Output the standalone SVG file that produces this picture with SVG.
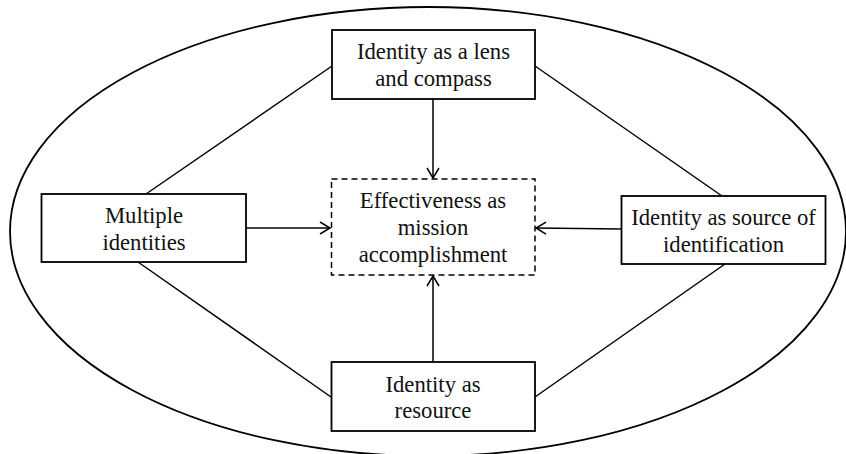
<svg xmlns="http://www.w3.org/2000/svg" width="846" height="454" viewBox="0 0 846 454">
<defs>
<marker id="arr" markerUnits="userSpaceOnUse" markerWidth="14" markerHeight="16" refX="11" refY="7" orient="auto">
<path d="M1,1 L11,7 L1,13" fill="none" stroke="#000" stroke-width="1.5"/>
</marker>
</defs>
<style>
.box{fill:#fff;stroke:#000;stroke-width:1.8}
.dash{fill:#fff;stroke:#000;stroke-width:1.5;stroke-dasharray:6 4}
.ln{stroke:#000;stroke-width:1.5;fill:none}
.ar{stroke:#000;stroke-width:1.5;fill:none;marker-end:url(#arr)}
.t{font-family:'Liberation Serif','Times New Roman',serif;font-size:22.7px;fill:#111;text-anchor:middle}
</style>
<rect width="846" height="454" fill="#fff"/>
<ellipse id="boundary" cx="428" cy="231.5" rx="418" ry="224.5" fill="none" stroke="#000" stroke-width="1.8"/>
<g id="connectors">
<line class="ln" x1="332" y1="66" x2="146" y2="194"/>
<line class="ln" x1="535" y1="66" x2="722" y2="196"/>
<line class="ln" x1="138" y1="262" x2="331" y2="397"/>
<line class="ln" x1="725" y1="264" x2="535" y2="397"/>
<line class="ar" x1="433" y1="99" x2="433" y2="178"/>
<line class="ar" x1="246" y1="228" x2="330" y2="228"/>
<line class="ar" x1="621" y1="229" x2="536" y2="228"/>
<line class="ar" x1="433" y1="362" x2="433" y2="276"/>
</g>
<g id="lens">
<rect class="box" x="332" y="30" width="203" height="69"/>
<text class="t" x="433.5" y="59">Identity as a lens</text>
<text class="t" x="433.5" y="86">and compass</text>
</g>
<g id="effectiveness">
<rect class="dash" x="331.5" y="179" width="203.5" height="96"/>
<text class="t" x="433" y="208">Effectiveness as</text>
<text class="t" x="433" y="235">mission</text>
<text class="t" x="433" y="262">accomplishment</text>
</g>
<g id="multiple">
<rect class="box" x="41.5" y="194" width="204.5" height="68"/>
<text class="t" x="144" y="223">Multiple</text>
<text class="t" x="144" y="250">identities</text>
</g>
<g id="identification">
<rect class="box" x="621.5" y="196" width="204" height="68"/>
<text class="t" x="723.5" y="225">Identity as source of</text>
<text class="t" x="723.5" y="252">identification</text>
</g>
<g id="resource">
<rect class="box" x="331.5" y="362" width="203.5" height="69"/>
<text class="t" x="433" y="392">Identity as</text>
<text class="t" x="433" y="418">resource</text>
</g>
</svg>
